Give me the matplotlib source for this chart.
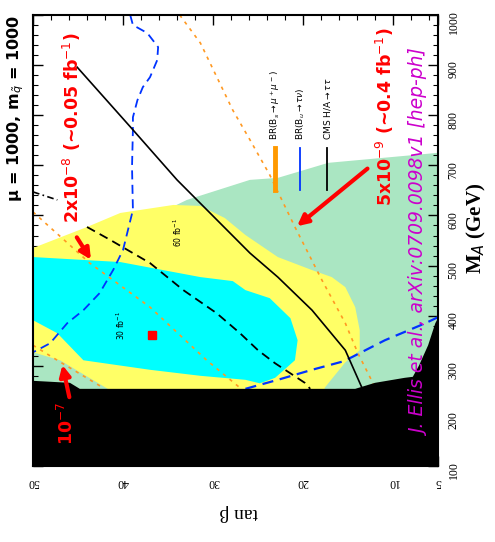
import matplotlib
matplotlib.use('Agg')
import matplotlib.pyplot as plt
from matplotlib.ticker import MultipleLocator

# ---- regions in the (tan beta, M_A) plane ----
green_tb = [50, 44.0, 40.3, 34.4, 32.9, 25.9, 22.8, 17.2, 5, 5, 50]
green_ma = [525, 570, 600, 618, 631, 671, 675, 705, 725, 100, 100]

yellow_tb = [50, 44.0, 40.3, 34.4, 31.4, 28.7, 26.4, 22.8, 19.0, 16.8, 15.3, 14.2,
             13.7, 13.7, 15.3, 17.6, 17.6, 41.7, 41.7, 47.0, 50]
yellow_ma = [535, 577, 605, 621, 619, 595, 561, 517, 491, 477, 457, 417,
             371, 331, 307, 256, 200, 200, 254, 311, 327]

cyan_tb = [50, 40.3, 31.4, 27.8, 26.4, 23.7, 21.4, 20.6, 20.9, 23.1, 24.8, 26.4,
           31.4, 37.0, 44.4, 47.3, 50]
cyan_ma = [517, 507, 477, 469, 451, 435, 395, 351, 311, 276, 265, 272,
           280, 292, 311, 365, 391]

lep_tb = [50, 45.9, 44.8, 14.2, 12.0, 8.7, 7.8, 7.1, 6.1, 5.3, 5, 5, 50]
lep_ma = [270, 266, 254, 254, 266, 276, 278, 301, 341, 385, 395, 100, 100]

# ---- contours ----
bsmm1_tb = [50, 43.7, 37.0, 30.7, 27.0]
bsmm1_ma = [607, 505, 417, 311, 256]
bsmm2_tb = [50, 47.3, 42.2]
bsmm2_ma = [341, 311, 256]
bsmm3_tb = [33.7, 31.4, 27.8, 25.9, 23.7, 20.9, 17.9, 15.3, 13.9, 12.3, 12.0]
bsmm3_ma = [1000, 944, 810, 751, 681, 577, 471, 385, 325, 268, 254]

blue1_tb = [39.2, 38.9, 37.3, 36.1, 36.2, 37.0, 37.8, 38.4, 38.9, 38.9, 39.0, 38.9,
            40.0, 41.1, 42.6, 44.4, 46.2, 48.1, 49.56, 50]
blue1_ma = [1000, 980, 964, 936, 910, 876, 856, 830, 796, 771, 697, 611,
            531, 491, 445, 411, 385, 345, 331, 327]
blue2_tb = [26.4, 22.8, 19.0, 15.7, 14.6, 10.9, 6.4, 5]
blue2_ma = [254, 272, 292, 308, 317, 351, 385, 397]

cms1_tb = [45.1, 39.2, 34.0, 25.9, 22.8, 19.0, 15.3, 13.4]
cms1_ma = [896, 777, 671, 525, 477, 411, 331, 254]
cms2_tb = [44.0, 41.4, 37.0, 33.3, 29.6, 27.0, 25.0, 23.1, 19.8, 19.2]
cms2_ma = [577, 551, 505, 451, 405, 365, 331, 305, 266, 254]
cms3_tb = [50, 47.3]
cms3_ma = [647, 631]

best_fit = (36.8, 361)

legend_labels = ['BR(B$_s$$\\to\\mu^+\\mu^-$)', 'BR(B$_u$$\\to\\tau\\nu$)', 'CMS H/A$\\to\\tau\\tau$']
legend_colors = ['#ff9900', '#0033ff', 'black']
legend_widths = [3.5, 1.3, 1.3]
legend_tb = [23.1, 20.3, 17.3]

fig = plt.figure(figsize=(4.95, 5.42), dpi=100)
ax = fig.add_axes([0.0667, 0.1402, 0.8182, 0.8321])

ax.fill(green_tb, green_ma, color='#aae6c2', lw=0, zorder=1)
ax.fill(yellow_tb, yellow_ma, color='#ffff66', lw=0, zorder=2)
ax.fill(cyan_tb, cyan_ma, color='#00ffff', lw=0, zorder=3)
ax.fill(lep_tb, lep_ma, color='black', lw=0, zorder=6)

orange_ls = (0, (2, 3))
for tb, ma in [(bsmm1_tb, bsmm1_ma), (bsmm2_tb, bsmm2_ma), (bsmm3_tb, bsmm3_ma)]:
    ax.plot(tb, ma, color='#ff9922', ls=orange_ls, lw=1.2, zorder=5)
ax.plot(blue1_tb, blue1_ma, color='#0033ff', ls=(0, (5, 3)), lw=1.3, zorder=5)
ax.plot(blue2_tb, blue2_ma, color='#0033ff', ls=(0, (5, 3)), lw=1.6, zorder=5)
ax.plot(cms1_tb, cms1_ma, color='black', lw=1.2, zorder=5)
ax.plot(cms2_tb, cms2_ma, color='black', ls=(0, (5, 3)), lw=1.3, zorder=5)
ax.plot(cms3_tb, cms3_ma, color='black', ls=(0, (4, 2, 1, 2)), lw=1.2, zorder=5)

ax.plot(*best_fit, marker='s', color='red', ms=6, zorder=7)

# small contour labels
ax.text(33.9, 567, '60 fb$^{-1}$', rotation=90, fontsize=5.5, ha='center', va='center', zorder=7)
ax.text(40.3, 381, '30 fb$^{-1}$', rotation=90, fontsize=5.5, ha='center', va='center', zorder=7)

# legend drawn by hand (rotated figure)
for tb, c, w, lab in zip(legend_tb, legend_colors, legend_widths, legend_labels):
    ax.plot([tb, tb], [651, 735], color=c, lw=w, zorder=7)
    ax.text(tb, 751, lab, rotation=90, fontsize=6.5, ha='center', va='bottom', zorder=7)

# red BR(Bs->mumu) annotations
red_kw = dict(color='red', fontsize=12.5, fontweight='bold', rotation=90,
              family='DejaVu Sans', zorder=10)
ax.text(45.7, 775, '2x10$^{-8}$ (~0.05 fb$^{-1}$)', ha='center', va='center', **red_kw)
ax.text(10.9, 796, '5x10$^{-9}$ (~0.4 fb$^{-1}$)', ha='center', va='center', **red_kw)
ax.text(46.2, 186, '10$^{-7}$', ha='center', va='center', **red_kw)
arrow = dict(arrowstyle='-|>', color='red', lw=3, mutation_scale=16)
ax.annotate('', xy=(43.4, 507), xytext=(45.3, 561), arrowprops=arrow, zorder=10)
ax.annotate('', xy=(20.9, 575), xytext=(12.6, 697), arrowprops=arrow, zorder=10)
ax.annotate('', xy=(46.8, 307), xytext=(45.9, 232), arrowprops=arrow, zorder=10)

ax.text(6.9, 545, 'J. Ellis et al., arXiv:0709.0098v1 [hep-ph]', color='#cc00cc',
        fontsize=13.5, style='italic', family='DejaVu Sans', rotation=90,
        ha='center', va='center', zorder=10)

ax.set_xlim(50, 5)
ax.set_ylim(100, 1000)
ax.set_xticks([5, 10, 20, 30, 40, 50])
ax.xaxis.set_minor_locator(MultipleLocator(2))
ax.yaxis.set_major_locator(MultipleLocator(100))
ax.yaxis.set_minor_locator(MultipleLocator(20))
ax.tick_params(which='both', direction='in', top=True, right=True, left=True, bottom=True,
               labelleft=False, labelright=True, labelsize=8.5, pad=7)
ax.tick_params(which='major', length=7, width=1)
ax.tick_params(which='minor', length=3.5, width=0.8)
ax.tick_params(axis='x', labelrotation=180)
ax.tick_params(axis='y', labelrotation=90)
for lab in ax.get_xticklabels() + ax.get_yticklabels():
    lab.set_family('Liberation Serif')
for s in ax.spines.values():
    s.set_linewidth(1.5)
    s.set_zorder(11)

fig.text(239 / 495, 1 - 513 / 542, 'tan β', rotation=180, fontsize=14,
         family='Liberation Serif', ha='center', va='center')
fig.text(476 / 495, 1 - 228 / 542, 'M$_A$ (GeV)', rotation=90, fontsize=15,
         family='Liberation Serif', fontweight='bold', ha='center', va='center')
fig.text(16 / 495, 1 - 108 / 542, 'μ = 1000, m$_{\\tilde{q}}$ = 1000', rotation=90,
         fontsize=11.5, fontweight='bold', ha='center', va='center')

fig.savefig('out.png', dpi=100)
